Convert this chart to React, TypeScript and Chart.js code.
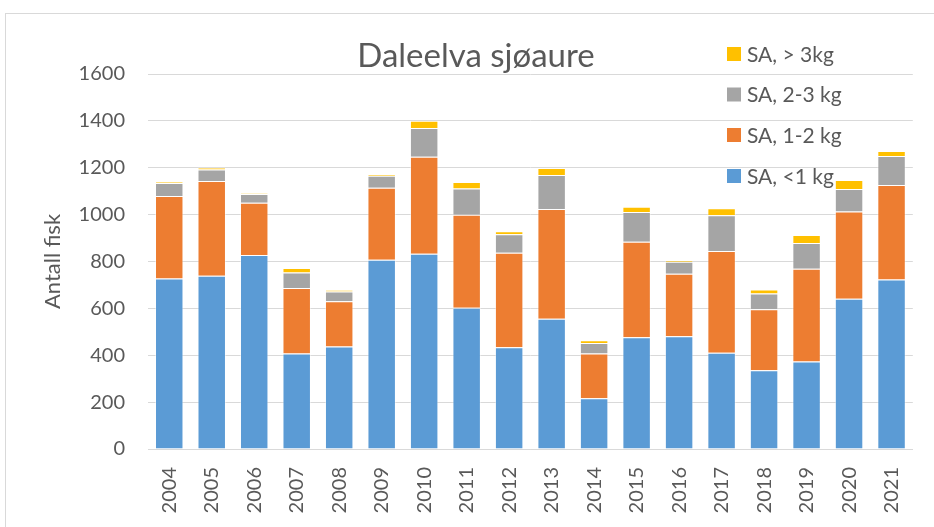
import React, { useEffect, useRef } from "react";
import { Chart, registerables } from "chart.js";

Chart.register(...registerables);

const years = ["2004","2005","2006","2007","2008","2009","2010","2011","2012","2013","2014","2015","2016","2017","2018","2019","2020","2021"];
const under1kg = [728, 739, 828, 407, 437, 808, 833, 603, 434, 556, 217, 477, 481, 411, 336, 373, 641, 723];
const kg1to2 = [351, 404, 223, 280, 193, 307, 414, 396, 403, 468, 190, 407, 267, 434, 260, 396, 372, 403];
const kg2to3 = [56, 50, 37, 66, 42, 51, 123, 113, 79, 145, 45, 127, 51, 152, 68, 110, 96, 124];
const over3kg = [5, 8, 3, 19, 7, 6, 31, 27, 13, 30, 12, 23, 7, 30, 17, 34, 39, 21];
const seriesNames = ["SA, <1 kg", "SA, 1-2 kg", "SA, 2-3 kg", "SA, > 3kg"];
const seriesColors = ["#5B9BD5", "#ED7D31", "#A5A5A5", "#FFC000"];
const chartTitle = "Daleelva sjøaure";
const yTitle = "Antall fisk";

const FONT = "Lato";
const TEXT = "#595959";

export default function App() {
  const ref = useRef<HTMLCanvasElement | null>(null);
  useEffect(() => {
    document.body.style.margin = "0";
    const canvas = ref.current!;
    const decor = {
      id: "decor",
      beforeDraw(chart: any) {
        const ctx = chart.ctx;
        ctx.save();
        ctx.fillStyle = "#ffffff";
        ctx.fillRect(0, 0, chart.width, chart.height);
        ctx.strokeStyle = "#d9d9d9";
        ctx.lineWidth = 1;
        ctx.strokeRect(5.5, 13.5, 1200, 1200);
        ctx.restore();
      },
      afterDraw(chart: any) {
        const ctx = chart.ctx;
        ctx.save();
        ctx.fillStyle = TEXT;
        ctx.font = `33px ${FONT}`;
        ctx.textAlign = "center";
        ctx.textBaseline = "alphabetic";
        ctx.fillText(chartTitle, 476, 67);
        // legend (reversed order)
        const ds = chart.data.datasets;
        const centers = [54, 94.5, 135, 176];
        ctx.font = `21px ${FONT}`;
        ctx.textAlign = "left";
        ctx.textBaseline = "middle";
        for (let i = 0; i < ds.length; i++) {
          const d = ds[ds.length - 1 - i];
          const cy = centers[i];
          ctx.fillStyle = d.backgroundColor;
          ctx.fillRect(727, cy - 7, 14, 14);
          ctx.fillStyle = TEXT;
          ctx.fillText(d.label, 747, cy + 1);
        }
        ctx.restore();
      },
    };
    const values = [under1kg, kg1to2, kg2to3, over3kg];
    const chart = new Chart(canvas, {
      type: "bar",
      data: {
        labels: years,
        datasets: values.map((v, i) => ({
          label: seriesNames[i],
          data: v,
          backgroundColor: seriesColors[i],
          borderColor: "rgba(255,255,255,0.45)",
          borderWidth: 1,
          borderSkipped: "start",
          categoryPercentage: 1,
          barPercentage: 0.67,
        })),
      },
      options: {
        animation: false,
        responsive: false,
        devicePixelRatio: 1,
        layout: { padding: { top: 74, left: 0, right: 16, bottom: 0 } },
        plugins: {
          legend: { display: false },
          title: { display: false },
          tooltip: { enabled: false },
        },
        scales: {
          x: {
            stacked: true,
            grid: { display: false, drawTicks: false },
            border: { display: true, color: "#d9d9d9", width: 1 },
            ticks: {
              color: TEXT,
              font: { family: FONT, size: 20 },
              maxRotation: 90,
              minRotation: 90,
              padding: 18,
              autoSkip: false,
            },
            afterFit(scale: any) {
              scale.height = 78;
            },
          },
          y: {
            stacked: true,
            min: 0,
            max: 1600,
            grid: { color: "#d9d9d9", lineWidth: 1, drawTicks: false },
            border: { display: false },
            ticks: {
              stepSize: 200,
              color: TEXT,
              font: { family: FONT, size: 20 },
              padding: 23,
              callback: (v: any) => String(v),
            },
            title: {
              display: true,
              text: yTitle,
              color: TEXT,
              font: { family: FONT, size: 22 },
              padding: { top: 40, bottom: 0 },
            },
            afterFit(scale: any) {
              scale.width = 148;
            },
          },
        },
      },
      plugins: [decor],
    });
    return () => chart.destroy();
  }, []);
  return (
    <div style={{ width: 934, height: 527 }}>
      <canvas ref={ref} width={934} height={527} />
    </div>
  );
}
